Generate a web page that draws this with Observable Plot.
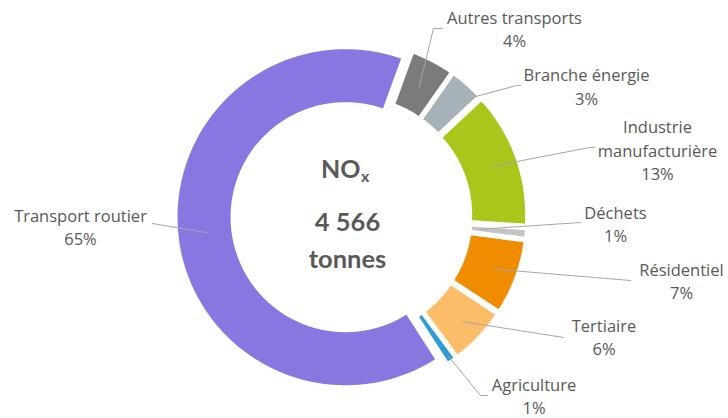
<!DOCTYPE html>
<html>
<head>
<meta charset="utf-8">
<script src="https://cdn.jsdelivr.net/npm/d3@7"></script>
<script src="https://cdn.jsdelivr.net/npm/@observablehq/plot@0.6"></script>
<style>
  html, body { margin: 0; padding: 0; background: #ffffff; }
  #chart svg { display: block; }
</style>
</head>
<body>
<div id="chart"></div>
<script>
// ---- data ----
const categories = ["Autres transports", "Branche énergie", "Industrie manufacturière", "Déchets", "Résidentiel", "Tertiaire", "Agriculture", "Transport routier"];
const shares = [4.2, 3.3, 13.0, 1.0, 7.2, 5.6, 1.0, 64.7];
const shareLabels = ["4%", "3%", "13%", "1%", "7%", "6%", "1%", "65%"];
const nameLabels = ["Autres transports", "Branche énergie", "Industrie\nmanufacturière", "Déchets", "Résidentiel", "Tertiaire", "Agriculture", "Transport routier"];
const colors = ["#7b7b7b", "#a7b1b8", "#abc61b", "#c4c4c4", "#ef8c00", "#fbbd68", "#2e9bd3", "#8a76e0"];
const pollutant = "NO";
const pollutantSub = "x";
const totalLabel = "4 566";
const unitLabel = "tonnes";

// ---- layout ----
const W = 728, H = 418;
const CX = 351, CY = 216, R_OUT = 170, R_IN = 113, EXPLODE = 6, GAP = 4, START_DEG = 20;
const labelXY = [[514, 27.5], [586, 85], [657, 148.5], [615, 222.5], [681, 279.5], [603.5, 335.5], [533.5, 394.5], [80, 225.5]];
const leaderR = [140, 166, 144, 124, 145, 147, 164, 139];
const leaderDA = [0, 5, 0, 0, 0, 0, 0, 0];
const leaderTail = [
  [[433, 28], [442, 28]],
  [[516, 85], [520, 85]],
  [[589, 147], [594, 147]],
  [[580, 222]],
  [[630, 280]],
  [[563, 337]],
  [[480, 395], [487, 395]],
  [[152, 223]]
];

const table = categories.map((c, i) => ({cat: c, share: shares[i], i}));
const start = START_DEG * Math.PI / 180;
const arcs = d3.pie().sort(null).value(d => d.share).startAngle(start).endAngle(start + 2 * Math.PI)(table);

const slicePts = [];
const leaderPts = [];
const deg = Math.PI / 180;
for (const a of arcs) {
  const mid = (a.startAngle + a.endAngle) / 2;
  const ox = EXPLODE * Math.sin(mid), oy = -EXPLODE * Math.cos(mid);
  const n = Math.max(2, Math.ceil((a.endAngle - a.startAngle) / (0.5 * deg)));
  for (let k = 0; k <= n; k++) {
    const t = a.startAngle + (a.endAngle - a.startAngle) * k / n;
    slicePts.push({cat: a.data.cat, x: CX + ox + R_OUT * Math.sin(t), y: CY + oy - R_OUT * Math.cos(t)});
  }
  for (let k = n; k >= 0; k--) {
    const t = a.startAngle + (a.endAngle - a.startAngle) * k / n;
    slicePts.push({cat: a.data.cat, x: CX + ox + R_IN * Math.sin(t), y: CY + oy - R_IN * Math.cos(t)});
  }
  const i = a.data.i;
  const la = mid + leaderDA[i] * deg;
  leaderPts.push({cat: a.data.cat, x: CX + ox + leaderR[i] * Math.sin(la), y: CY + oy - leaderR[i] * Math.cos(la)});
  for (const p of leaderTail[i]) leaderPts.push({cat: a.data.cat, x: p[0], y: p[1]});
}

const labels = categories.map((c, i) => ({cat: c, x: labelXY[i][0], y: labelXY[i][1], text: nameLabels[i] + "\n" + shareLabels[i]}));

const plot = Plot.plot({
  width: W,
  height: H,
  margin: 0,
  x: {domain: [0, W], range: [0, W], axis: null},
  y: {domain: [0, H], range: [0, H], axis: null},
  color: {domain: categories, range: colors},
  style: {fontFamily: "'Open Sans', Lato, sans-serif", background: "#ffffff"},
  marks: [
    Plot.line(slicePts, {x: "x", y: "y", z: "cat", fill: "cat", stroke: "white", strokeWidth: GAP, strokeLinejoin: "miter", curve: "linear-closed"}),
    Plot.line(leaderPts, {x: "x", y: "y", z: "cat", stroke: "#a6a6a6", strokeWidth: 1}),
    Plot.text(labels, {x: "x", y: "y", text: "text", fontSize: 16.5, lineHeight: 1.42, fill: "#595959", textAnchor: "middle", lineAnchor: "middle"}),
    Plot.text([pollutant], {x: () => 360, y: () => 169, text: d => d, fontFamily: "Lato, sans-serif", fontSize: 25, fontWeight: "bold", fill: "#595959", textAnchor: "end"}),
    Plot.text([pollutantSub], {x: () => 360.5, y: () => 176.5, text: d => d, fontFamily: "Lato, sans-serif", fontSize: 16, fontWeight: "bold", fill: "#595959", textAnchor: "start"}),
    Plot.text([totalLabel], {x: () => 347, y: () => 222.5, text: d => d, fontFamily: "Lato, sans-serif", fontSize: 25.5, fontWeight: "bold", fill: "#595959", textAnchor: "middle"}),
    Plot.text([unitLabel], {x: () => 347, y: () => 259.5, text: d => d, fontFamily: "Lato, sans-serif", fontSize: 25.5, fontWeight: "bold", fill: "#595959", textAnchor: "middle"})
  ]
});
document.getElementById("chart").appendChild(plot);
</script>
</body>
</html>
